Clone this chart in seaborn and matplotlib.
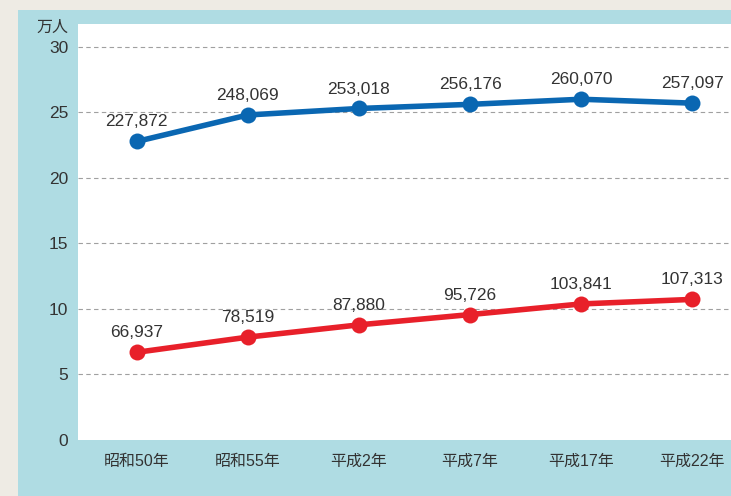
import matplotlib
matplotlib.use('Agg')
import matplotlib.pyplot as plt
import seaborn as sns
import pandas as pd
import numpy as np
from matplotlib.patches import Rectangle

# data (人)
years = ['昭和50年', '昭和55年', '平成2年', '平成7年', '平成17年', '平成22年']
series_a = [227872, 248069, 253018, 256176, 260070, 257097]
series_b = [66937, 78519, 87880, 95726, 103841, 107313]
yticks = [0, 5, 10, 15, 20, 25, 30]

sns.set_theme(style='white')
plt.rcParams['font.family'] = ['Liberation Sans', 'Noto Sans CJK JP']

df = pd.DataFrame({
    'pos': list(range(len(years))) * 2,
    'value': [v / 10000 for v in series_a + series_b],
    'series': ['A'] * len(years) + ['B'] * len(years),
    'raw': series_a + series_b,
})

fig = plt.figure(figsize=(7.31, 4.96), dpi=100)
fig.patch.set_facecolor('#eeebe4')
# blue panel behind the chart
fig.patches.append(Rectangle((18 / 731, 0), 1, (496 - 10) / 496,
                             transform=fig.transFigure, facecolor='#afdce3',
                             edgecolor='none', zorder=-1))

ax = fig.add_axes([78 / 731, (496 - 440) / 496, 1 - 78 / 731, (440 - 24) / 496])
ax.set_zorder(1)
ax.set_facecolor('white')

sns.lineplot(data=df, x='pos', y='value', hue='series',
             palette={'A': '#0a67b2', 'B': '#e8202a'},
             marker='o', markersize=11.5, markeredgewidth=0,
             linewidth=4, legend=False, ax=ax, zorder=3)

for _, r in df.iterrows():
    ax.annotate(f"{r['raw']:,}", (r['pos'], r['value']), xytext=(0, 14),
                textcoords='offset points', ha='center', va='center',
                fontsize=12.5, color='#333333', zorder=4)

ax.set_xlim(-0.53, 5.35)
ax.set_ylim(0, 31.75)
ax.set_yticks(yticks)
ax.set_yticklabels([str(t) for t in yticks])
ax.set_xticks(range(len(years)))
ax.set_xticklabels(years)
ax.tick_params(axis='y', length=0, pad=7, labelsize=12.5, labelcolor='#333333')
ax.tick_params(axis='x', length=0, pad=10, labelsize=11.5, labelcolor='#333333')
ax.set_xlabel('')
ax.set_ylabel('')

for t in yticks[1:]:
    ax.axhline(t, color='#a0a0a0', linestyle=(0, (4, 3)), linewidth=0.8, zorder=1)

for s in ax.spines.values():
    s.set_visible(False)

fig.text(68 / 731, 1 - 27 / 496, '万人', ha='right', va='center',
         fontsize=11.5, color='#333333')

fig.savefig('out.png', dpi=100, facecolor=fig.get_facecolor())
